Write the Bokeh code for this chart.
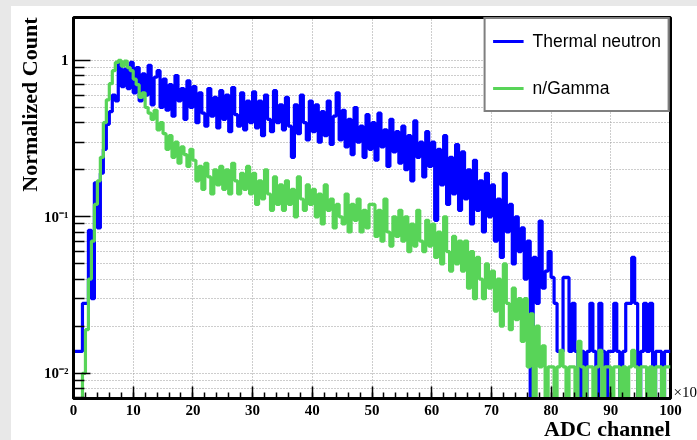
import numpy as np
from bokeh.plotting import figure
from bokeh.models import (FixedTicker, CustomJSTickFormatter, Legend,
                          LegendItem, Range1d, LogAxis, Title)
from bokeh.embed import file_html
from bokeh.resources import INLINE

# ---------------- data (ADC channel in units of x10, bin width 0.5) ----------------
bin_width = 0.5
x_ticks = [0, 10, 20, 30, 40, 50, 60, 70, 80, 90, 100]
x_minor_ticks = list(range(0, 101, 2))
y_major_ticks = [0.01, 0.1, 1]
y_minor_ticks = [m * 10.0 ** e for e in (-3, -2, -1) for m in range(2, 10)]
series_names = ["Thermal neutron", "n/Gamma"]
x_title = "ADC channel"
y_title = "Normalized Count"
x_multiplier = "\u00d710"

thermal_neutron = [
    0.0138, 0.0138, 0.0138, 0.028, 0.028, 0.082, 0.03, 0.165, 0.085, 0.19,
    0.27, 0.39, 0.47, 0.60, 0.55, 0.98, 0.68, 0.88, 0.66, 0.97,
    0.62, 0.90, 0.55, 0.82, 0.60, 0.93, 0.52, 0.78, 0.86, 0.50,
    0.76, 0.48, 0.70, 0.44, 0.80, 0.55, 0.66, 0.42, 0.74, 0.50,
    0.68, 0.40, 0.62, 0.46, 0.38, 0.66, 0.44, 0.58, 0.37, 0.64,
    0.42, 0.60, 0.35, 0.67, 0.45, 0.38, 0.62, 0.36, 0.55, 0.40,
    0.63, 0.37, 0.55, 0.33, 0.60, 0.42, 0.35, 0.64, 0.40, 0.52,
    0.36, 0.58, 0.38, 0.24, 0.52, 0.34, 0.60, 0.40, 0.31, 0.55,
    0.35, 0.52, 0.30, 0.47, 0.33, 0.55, 0.29, 0.44, 0.62, 0.31,
    0.48, 0.28, 0.42, 0.25, 0.50, 0.30, 0.38, 0.24, 0.45, 0.27,
    0.40, 0.23, 0.46, 0.28, 0.36, 0.21, 0.42, 0.26, 0.35, 0.22,
    0.38, 0.20, 0.33, 0.17, 0.41, 0.24, 0.30, 0.18, 0.35, 0.21,
    0.30, 0.095, 0.27, 0.16, 0.33, 0.12, 0.24, 0.14, 0.29, 0.11,
    0.26, 0.13, 0.20, 0.09, 0.23, 0.11, 0.17, 0.08, 0.19, 0.10,
    0.16, 0.07, 0.13, 0.055, 0.19, 0.08, 0.12, 0.05, 0.10, 0.06,
    0.085, 0.04, 0.07, 0.0, 0.055, 0.028, 0.094, 0.035, 0.045, 0.06,
    0.041, 0.028, 0.0138, 0.0138, 0.041, 0.041, 0.0138, 0.028, 0.0138, 0.0,
    0.0138, 0.0, 0.0138, 0.028, 0.0138, 0.0, 0.028, 0.0138, 0.0, 0.0138,
    0.0138, 0.028, 0.0138, 0.0, 0.0138, 0.028, 0.028, 0.055, 0.028, 0.0,
    0.0138, 0.028, 0.0138, 0.028, 0.0, 0.0138, 0.0138, 0.0, 0.0138, 0.0138,
]

n_gamma = [
    0.0, 0.0, 0.0, 0.01, 0.019, 0.04, 0.07, 0.12, 0.17, 0.24,
    0.40, 0.56, 0.71, 0.86, 0.97, 1.0, 0.92, 0.99, 0.90, 0.86,
    0.76, 0.70, 0.58, 0.62, 0.50, 0.46, 0.42, 0.48, 0.36, 0.40,
    0.34, 0.27, 0.33, 0.24, 0.30, 0.22, 0.28, 0.25, 0.21, 0.27,
    0.23, 0.17, 0.21, 0.15, 0.22, 0.18, 0.14, 0.20, 0.16, 0.21,
    0.15, 0.20, 0.14, 0.22, 0.17, 0.14, 0.19, 0.15, 0.21, 0.14,
    0.19, 0.12, 0.17, 0.13, 0.20, 0.14, 0.11, 0.18, 0.12, 0.16,
    0.11, 0.17, 0.12, 0.15, 0.10, 0.18, 0.13, 0.11, 0.16, 0.12,
    0.15, 0.10, 0.14, 0.09, 0.16, 0.11, 0.13, 0.085, 0.12, 0.10,
    0.09, 0.14, 0.08, 0.12, 0.095, 0.13, 0.08, 0.11, 0.085, 0.12,
    0.12, 0.075, 0.11, 0.07, 0.13, 0.08, 0.065, 0.10, 0.075, 0.11,
    0.07, 0.10, 0.06, 0.09, 0.065, 0.11, 0.07, 0.06, 0.095, 0.065,
    0.09, 0.055, 0.08, 0.05, 0.10, 0.06, 0.045, 0.075, 0.05, 0.07,
    0.045, 0.07, 0.035, 0.06, 0.03, 0.055, 0.04, 0.03, 0.05, 0.035,
    0.045, 0.025, 0.04, 0.02, 0.05, 0.028, 0.019, 0.035, 0.022, 0.03,
    0.016, 0.03, 0.011, 0.024, 0.0, 0.02, 0.011, 0.015, 0.0, 0.011,
    0.011, 0.0, 0.011, 0.014, 0.011, 0.0, 0.011, 0.011, 0.0, 0.016,
    0.011, 0.0, 0.011, 0.011, 0.0, 0.011, 0.014, 0.0, 0.011, 0.011,
    0.0, 0.011, 0.011, 0.0, 0.011, 0.0, 0.011, 0.014, 0.011, 0.0,
    0.011, 0.011, 0.0, 0.011, 0.0, 0.011, 0.011, 0.0, 0.011, 0.011,
]

# ---------------- figure ----------------
Y_MIN, Y_MAX = 0.0069, 1.88
X_MIN, X_MAX = 0, 100
MULT_POS = 0.00757   # height (in y units) at which the x10 multiplier sits
BLUE = "#0000ff"
GREEN = "#58d458"
SERIF = "Liberation Serif"

p = figure(width=690, height=442, y_axis_type="log",
           x_range=Range1d(X_MIN, X_MAX), y_range=Range1d(Y_MIN, Y_MAX),
           output_backend="svg", toolbar_location=None,
           min_border_left=62, min_border_right=31,
           min_border_top=11, min_border_bottom=50,
           background_fill_color="white", border_fill_color="white",
           styles={"position": "fixed", "left": "11px", "top": "6px",
                   "box-shadow": "-11px -6px 0 11px #e8e8e8"})

p.outline_line_color = "black"
p.outline_line_width = 3


def step_xy(values):
    edges = [i * bin_width for i in range(len(values) + 1)]
    ys = [v if v > 0 else Y_MIN for v in values]
    return edges, ys + [ys[-1]]


ex, ey = step_xy(thermal_neutron)
r_blue = p.step(ex, ey, mode="after", line_color=BLUE, line_width=3.2)
gx, gy = step_xy(n_gamma)
r_green = p.step(gx, gy, mode="after", line_color=GREEN, line_width=3.2)

# ---------------- axes ----------------
xt = FixedTicker(ticks=x_ticks, minor_ticks=x_minor_ticks)
yt = FixedTicker(ticks=y_major_ticks, minor_ticks=y_minor_ticks)

xa = p.xaxis[0]
xa.ticker = xt
xa.major_tick_in = 12
xa.major_tick_out = 0
xa.minor_tick_in = 6
xa.minor_tick_out = 0
xa.major_label_standoff = 6

ya = p.yaxis[0]
ya.ticker = yt
ya.formatter = CustomJSTickFormatter(code="""
const e = Math.round(Math.log10(tick));
if (e == 0) { return "1"; }
const sup = {"-": "\u207b", "0": "\u2070", "1": "\u00b9", "2": "\u00b2", "3": "\u00b3"};
return "10" + String(e).split("").map(c => sup[c]).join("");
""")
ya.major_tick_in = 17
ya.major_tick_out = 0
ya.minor_tick_in = 11
ya.minor_tick_out = 0
ya.major_label_standoff = 5

for ax in (xa, ya):
    ax.major_label_text_font = SERIF
    ax.major_label_text_font_style = "bold"
    ax.major_label_text_font_size = "15px"
    ax.major_label_text_color = "black"
    ax.axis_line_color = "black"
    ax.axis_line_width = 3
    ax.major_tick_line_color = "black"
    ax.minor_tick_line_color = "black"
    ax.major_tick_line_width = 1.5
    ax.minor_tick_line_width = 1.5

# axis titles, right/top aligned as in the original
p.add_layout(Title(text=x_title, align="right", standoff=-3,
                   vertical_align="top",
                   text_font=SERIF, text_font_style="bold",
                   text_font_size="22px", text_color="black"), "below")
p.add_layout(Title(text=y_title, align="right", standoff=0,
                   text_font=SERIF, text_font_style="bold",
                   text_font_size="22px", text_color="black"), "left")

# multiplier of the x axis, shown at the right end of the axis
ra = LogAxis(ticker=FixedTicker(ticks=[MULT_POS]),
             formatter=CustomJSTickFormatter(code='return "%s";' % x_multiplier),
             axis_line_color=None, major_tick_line_color=None,
             minor_tick_line_color=None, major_label_standoff=3,
             major_tick_in=0, major_tick_out=0, minor_tick_in=0,
             minor_tick_out=0, major_label_text_font=SERIF,
             major_label_text_font_style="normal",
             major_label_text_font_size="15px",
             major_label_text_color="black")
p.add_layout(ra, "right")

p.xgrid.ticker = xt
p.ygrid.ticker = yt
for g in (p.xgrid, p.ygrid):
    g.grid_line_color = "#9a9a9a"
    g.grid_line_dash = "1 2"
    g.grid_line_width = 1
p.ygrid.minor_grid_line_color = "#9a9a9a"
p.ygrid.minor_grid_line_dash = "1 2"
p.ygrid.minor_grid_line_width = 1

# ---------------- legend ----------------
legend = Legend(items=[LegendItem(label=series_names[0], renderers=[r_blue]),
                       LegendItem(label=series_names[1], renderers=[r_green])],
                location="top_right", margin=0, padding=7, spacing=17,
                glyph_width=31, glyph_height=30, label_height=30,
                label_standoff=9, label_text_font="Liberation Sans",
                label_text_font_size="17.5px", label_text_color="black",
                border_line_color="black", border_line_width=2,
                background_fill_color="white", background_fill_alpha=1.0)
p.add_layout(legend)

open("out.html", "w").write(file_html(p, INLINE))
